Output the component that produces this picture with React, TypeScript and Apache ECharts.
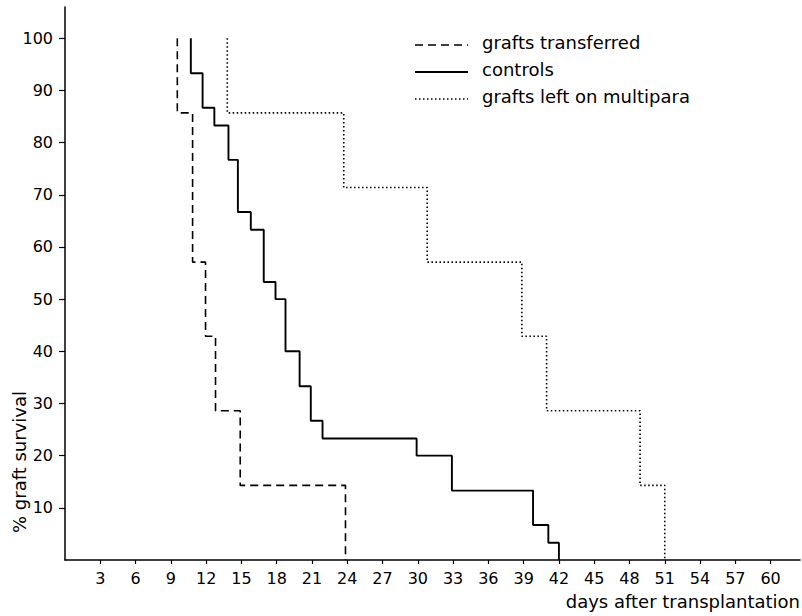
import React, { useEffect, useRef } from "react";
import * as echarts from "echarts";

// Kaplan-Meier style graft survival (% surviving) vs days after transplantation
const transferredDays = [9.55, 10.85, 11.95, 12.8, 14.9, 23.85];
const transferredSurv = [85.7, 57.1, 42.9, 28.6, 14.3, 0];

const controlsDays = [10.7, 11.7, 12.7, 13.9, 14.7, 15.8, 16.9, 17.9, 18.75, 19.95, 20.9, 21.9, 29.9, 32.9, 39.8, 41.1, 42];
const controlsSurv = [93.3, 86.7, 83.3, 76.7, 66.7, 63.3, 53.3, 50, 40, 33.3, 26.7, 23.3, 20, 13.3, 6.7, 3.3, 0];

const multiparaDays = [13.8, 23.7, 30.8, 38.85, 40.95, 48.9, 51];
const multiparaSurv = [85.7, 71.4, 57.1, 42.9, 28.6, 14.3, 0];

const seriesNames = ["grafts transferred", "controls", "grafts left on multipara"];

const xTicks = [3, 6, 9, 12, 15, 18, 21, 24, 27, 30, 33, 36, 39, 42, 45, 48, 51, 54, 57, 60];
const yTicks = [10, 20, 30, 40, 50, 60, 70, 80, 90, 100];

const xAxisName = "days after transplantation";
const yAxisName = "% graft survival";

const FONT = "DejaVu Sans";
const BLACK = "#000";

const dashes: (number[] | null)[] = [[8, 5], null, [1.5, 2.5]];
const widths = [1.6, 1.9, 1.6];

function stepPoints(days: number[], surv: number[]): number[][] {
  const pts: number[][] = [[days[0], 100]];
  days.forEach((d, i) => pts.push([d, surv[i]]));
  return pts;
}

export default function App() {
  const ref = useRef<HTMLDivElement>(null);

  useEffect(() => {
    if (!ref.current) return;
    const chart = echarts.init(ref.current, undefined, { renderer: "svg" });

    const legendGraphics: any[] = [];
    seriesNames.forEach((name, i) => {
      const y = 42 + i * 27;
      legendGraphics.push({
        type: "line",
        shape: { x1: 415, y1: y + 3, x2: 468, y2: y + 3 },
        style: {
          stroke: BLACK,
          lineWidth: widths[i],
          lineDash: dashes[i] || undefined,
        },
      });
      legendGraphics.push({
        type: "text",
        x: 482,
        y: y,
        style: {
          text: name,
          fill: BLACK,
          fontSize: 18,
          fontFamily: FONT,
          align: "left",
          verticalAlign: "middle",
        },
      });
    });

    const seriesData = [
      stepPoints(transferredDays, transferredSurv),
      stepPoints(controlsDays, controlsSurv),
      stepPoints(multiparaDays, multiparaSurv),
    ];

    chart.setOption({
      animation: false,
      backgroundColor: "#fff",
      textStyle: { fontFamily: FONT },
      grid: { left: 65, right: 2, top: 7, bottom: 56, outerBoundsMode: "none" },
      xAxis: {
        type: "value",
        min: 0,
        max: 62.5,
        axisLine: { show: true, lineStyle: { color: BLACK, width: 1.5 } },
        axisTick: { show: true, customValues: xTicks, length: 4, lineStyle: { color: BLACK, width: 1.2 } },
        axisLabel: { customValues: xTicks, color: BLACK, fontSize: 16, margin: 10, fontFamily: FONT },
        splitLine: { show: false },
      },
      yAxis: {
        type: "value",
        min: 0,
        max: 106,
        axisLine: { show: true, lineStyle: { color: BLACK, width: 1.5 } },
        axisTick: { show: true, customValues: yTicks, length: 6, lineStyle: { color: BLACK, width: 1.2 } },
        axisLabel: { customValues: yTicks, color: BLACK, fontSize: 16, margin: 12, fontFamily: FONT },
        splitLine: { show: false },
      },
      graphic: [
        {
          type: "text",
          x: 19,
          y: 462,
          rotation: Math.PI / 2,
          style: {
            text: yAxisName,
            fill: BLACK,
            fontSize: 18,
            fontFamily: FONT,
            align: "center",
            verticalAlign: "middle",
          },
        },
        {
          type: "text",
          x: 800,
          y: 601,
          style: {
            text: xAxisName,
            fill: BLACK,
            fontSize: 18,
            fontFamily: FONT,
            align: "right",
            verticalAlign: "middle",
          },
        },
        ...legendGraphics,
      ],
      series: seriesNames.map((name, i) => ({
        name,
        type: "line",
        step: "end",
        symbol: "none",
        showSymbol: false,
        data: seriesData[i],
        lineStyle: { color: BLACK, width: widths[i], type: dashes[i] || "solid" },
        itemStyle: { color: BLACK },
      })),
    });
    return () => chart.dispose();
  }, []);

  return (
    <div
      ref={ref}
      style={{ position: "fixed", left: 0, top: 0, width: 802, height: 616, background: "#fff" }}
    />
  );
}
